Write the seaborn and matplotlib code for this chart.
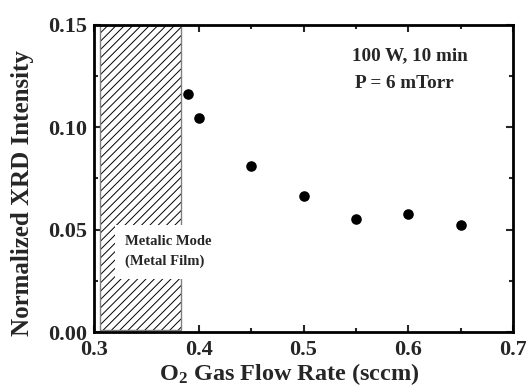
import matplotlib
matplotlib.use("Agg")
import matplotlib.pyplot as plt
from matplotlib.patches import Rectangle
from matplotlib.ticker import MultipleLocator
import seaborn as sns
import pandas as pd

flow_rate = [0.39, 0.40, 0.45, 0.50, 0.55, 0.60, 0.65]
xrd_intensity = [0.1165, 0.1045, 0.081, 0.0665, 0.0552, 0.0575, 0.0522]
x_ticks = [0.3, 0.4, 0.5, 0.6, 0.7]
y_ticks = [0.00, 0.05, 0.10, 0.15]
metal_region = [0.3057, 0.383]

sns.set_style("ticks")
plt.rcParams["font.family"] = ["Liberation Serif", "DejaVu Serif"]
plt.rcParams["font.weight"] = "bold"
plt.rcParams["mathtext.fontset"] = "custom"
plt.rcParams["mathtext.rm"] = "Liberation Serif:bold"
plt.rcParams["mathtext.bf"] = "Liberation Serif:bold"
plt.rcParams["mathtext.it"] = "Liberation Serif:bold"
plt.rcParams["hatch.linewidth"] = 0.7

df = pd.DataFrame({"flow": flow_rate, "intensity": xrd_intensity})

fig = plt.figure(figsize=(5.26, 3.88), dpi=100)
ax = fig.add_axes([0.1787, 0.1443, 0.7966, 0.7913])

# hatched metallic-mode region
ax.add_patch(Rectangle((metal_region[0], 0.001), metal_region[1] - metal_region[0], 0.149,
                       facecolor="white", edgecolor="black", linewidth=0, hatch="////", zorder=1))
ax.add_patch(Rectangle((metal_region[0], 0.001), metal_region[1] - metal_region[0], 0.149,
                       facecolor="none", edgecolor="#808080", linewidth=1.0, zorder=1.5))

sns.scatterplot(data=df, x="flow", y="intensity", ax=ax, color="black", s=58,
                edgecolor="black", linewidth=0, zorder=3, legend=False)

ax.text(0.3296, 0.0393, "Metalic Mode\n(Metal Film)", fontsize=10.5, fontweight="bold",
        ha="left", va="center", linespacing=1.7, zorder=2,
        bbox=dict(boxstyle="square,pad=0.7", facecolor="white", edgecolor="none"))

ax.text(0.5466, 0.1351, "100 W, 10 min", fontsize=13.8, fontweight="bold", ha="left", va="center")
ax.text(0.5495, 0.1214, "P = 6 mTorr", fontsize=13.8, fontweight="bold", ha="left", va="center")

ax.set_xlim(0.3, 0.7)
ax.set_ylim(0.0, 0.15)
ax.set_xticks(x_ticks)
ax.set_yticks(y_ticks)
ax.set_xticklabels([f"{v:.1f}" for v in x_ticks])
ax.set_yticklabels([f"{v:.2f}" for v in y_ticks])
ax.xaxis.set_minor_locator(MultipleLocator(0.05))
ax.yaxis.set_minor_locator(MultipleLocator(0.025))

ax.tick_params(which="both", direction="in", top=True, right=True, width=1.5, labelsize=16)
ax.tick_params(which="major", length=5)
ax.tick_params(axis="x", which="major", pad=6)
ax.tick_params(axis="y", which="major", pad=5)
ax.tick_params(which="minor", length=3)
for lab in ax.get_xticklabels() + ax.get_yticklabels():
    lab.set_fontweight("bold")
for sp in ax.spines.values():
    sp.set_linewidth(2)
    sp.set_color("black")

ax.set_xlabel(r"O$_{\mathbf{2}}$ Gas Flow Rate (sccm)", fontsize=17.5, fontweight="bold")
ax.set_ylabel("Normalized XRD Intensity", fontsize=18, fontweight="bold")
ax.xaxis.set_label_coords(0.465, -0.094)
ax.yaxis.set_label_coords(-0.142, 0.453)

fig.savefig("out.png", dpi=100)
